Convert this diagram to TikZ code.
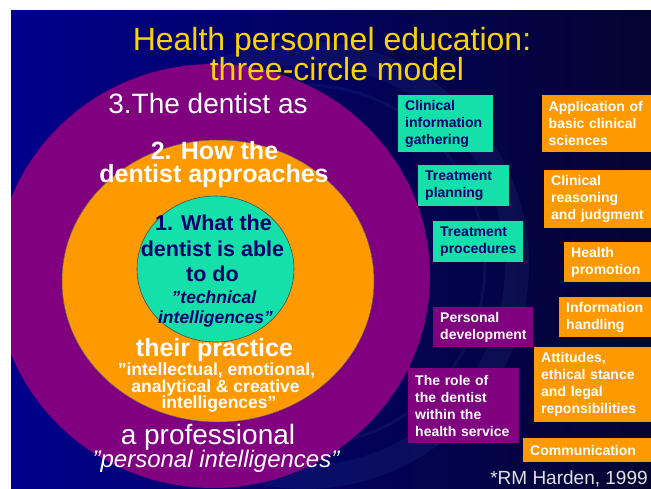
\documentclass[tikz,border=0pt]{standalone}
\usepackage{fontspec}
\setmainfont{Liberation Sans}
\definecolor{bgL}{RGB}{0,0,140}
\definecolor{bgR}{RGB}{4,4,48}
\definecolor{cpurple}{RGB}{128,0,128}
\definecolor{corange}{RGB}{255,153,0}
\definecolor{cteal}{RGB}{22,224,170}
\definecolor{navytxt}{RGB}{0,0,110}
\definecolor{ttl}{RGB}{250,212,0}
\definecolor{credgray}{RGB}{225,225,225}
\definecolor{sealc}{RGB}{120,170,230}
\begin{document}
\begin{tikzpicture}[x=1pt,y=-1pt,
  every node/.style={inner sep=0pt},
  ln/.style={anchor=base},
  title/.style={ln, text=ttl, font=\fontsize{32}{32}\selectfont},
  wreg/.style={ln, text=white, font=\fontsize{28}{28}\selectfont},
  wit/.style={ln, text=white, font=\fontsize{24}{24}\selectfont\itshape},
  wbig/.style={ln, text=white, font=\fontsize{25}{25}\selectfont\bfseries},
  wsmall/.style={ln, text=white, font=\fontsize{17.5}{17.5}\selectfont\bfseries},
  navyb/.style={ln, text=navytxt, font=\fontsize{21.5}{21.5}\selectfont\bfseries},
  navybi/.style={ln, text=navytxt, font=\fontsize{17.5}{17.5}\selectfont\bfseries\itshape},
  credit/.style={ln, text=credgray, font=\fontsize{19}{19}\selectfont},
  boxb/.style={anchor=north west, inner xsep=7pt, inner ysep=0pt, align=left,
    font=\fontsize{14}{17}\selectfont\bfseries},
  tealbox/.style={boxb, fill=cteal, text=navytxt},
  orbox/.style={boxb, fill=corange, text=white},
  pubox/.style={boxb, fill=cpurple, text=white},
  seal/.style={draw=sealc, opacity=0.07}
]
\useasboundingbox (0,0) rectangle (651,488);
\fill[white] (0,0) rectangle (651,488);
\begin{scope}
\clip (11,10) rectangle (651,488);
\shade[left color=bgL, right color=bgR] (11,10) rectangle (651,488);
% faint seal in the background
\draw[seal, line width=24pt] (305,265) circle (212pt);
\draw[seal, line width=3pt] (305,265) circle (180pt);
% three circles
\fill[cpurple] (213,276) ellipse [x radius=217pt, y radius=212pt];
\filldraw[fill=corange, draw=black!60, line width=0.5pt] (218,281) ellipse [x radius=156pt, y radius=141pt];
\filldraw[fill=cteal, draw=black!70, line width=0.6pt] (215.5,269) ellipse [x radius=78.5pt, y radius=73pt];

% title
\node[title] (t1) at (332,50) {Health personnel education:};
\node[title] (t2) at (337,80) {three-circle model};

% circle texts
\node[wreg] (c3a) at (208,113) {3.The dentist as};
\node[wbig] (c2a) at (214.5,159) {2. How the};
\node[wbig] (c2b) at (214,182) {dentist approaches};
\node[navyb] (c1a) at (213.5,230) {1. What the};
\node[navyb] (c1b) at (212.5,256) {dentist is able};
\node[navyb] (c1c) at (212.5,281) {to do};
\node[navybi] (c1d) at (214,303) {”technical};
\node[navybi] (c1e) at (215.5,323) {intelligences”};
\node[wbig] (c2c) at (214.5,356) {their practice};
\node[wsmall] (c2d) at (216.5,375) {”intellectual, emotional,};
\node[wsmall] (c2e) at (215.5,392) {analytical \& creative};
\node[wsmall] (c2f) at (219,408) {intelligences”};
\node[wreg] (c3b) at (208,444) {a professional};
\node[wit] (c3c) at (216,467) {"personal intelligences”};

% boxes
\node[tealbox, minimum width=95pt, text width=81pt, minimum height=57pt] (b1) at (398,95) {Clinical\\information\\gathering};
\node[tealbox, minimum width=91pt, text width=77pt, minimum height=41pt] (b2) at (418,165) {Treatment\\planning};
\node[tealbox, minimum width=90pt, text width=76pt, minimum height=41pt] (b3) at (433,221) {Treatment\\procedures};
\node[pubox, minimum width=100pt, text width=86pt, minimum height=40pt] (b4) at (433,307) {Personal\\development};
\node[pubox, minimum width=111pt, text width=97pt, minimum height=75pt] (b5) at (408,368) {The~role~of\\the~dentist\\within~the\\health~service};
\node[orbox, minimum width=110pt, text width=96pt, minimum height=57pt] (b6) at (541.5,94.5) {Application~of\\basic~clinical\\sciences};
\node[orbox, minimum width=108pt, text width=94pt, minimum height=58pt] (b7) at (544,170) {Clinical\\reasoning\\and~judgment};
\node[orbox, minimum width=88pt, text width=74pt, minimum height=40pt] (b8) at (564,242) {Health\\promotion};
\node[orbox, minimum width=93pt, text width=79pt, minimum height=40pt] (b9) at (559,297) {Information\\handling};
\node[orbox, minimum width=118pt, text width=104pt, minimum height=75pt] (b10) at (534,347) {Attitudes,\\ethical~stance\\and~legal\\reponsibilities};
\node[orbox, minimum width=129pt, text width=115pt, minimum height=24pt] (b11) at (523,438) {Communication};

\node[credit] (cr) at (569,484) {*RM Harden, 1999};
\end{scope}
\end{tikzpicture}
\end{document}
